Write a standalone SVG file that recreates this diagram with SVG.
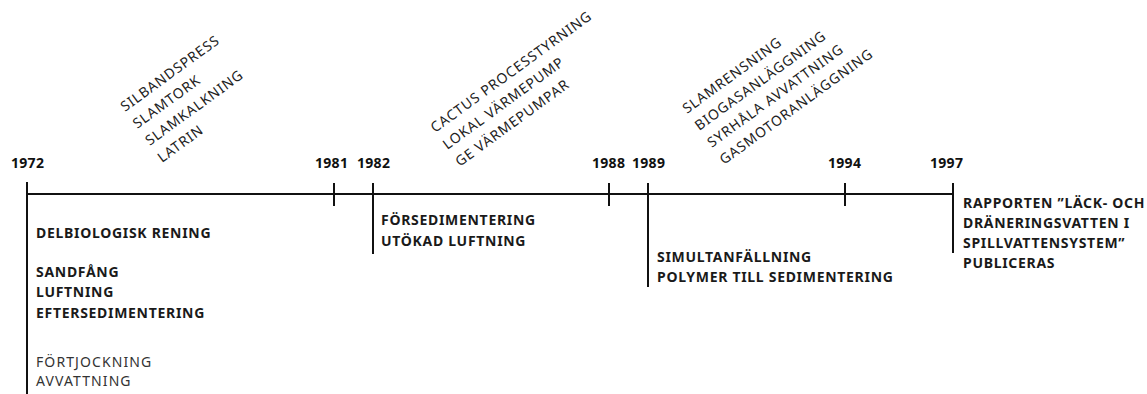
<svg xmlns="http://www.w3.org/2000/svg" width="1147" height="394" viewBox="0 0 1147 394">
<style>
.bg{fill:#fff}
.ax{stroke:#111;stroke-width:2;fill:none}
.yr{font-family:"Noto Sans",sans-serif;font-weight:700;font-size:14px;letter-spacing:0.3px;fill:#111}
.b{font-family:"Noto Sans",sans-serif;font-weight:700;font-size:14px;letter-spacing:0.7px;fill:#1a1a1a}
.r{font-family:"Noto Sans",sans-serif;font-weight:400;font-size:14px;letter-spacing:1.1px;fill:#333}
.rot{font-family:"Noto Sans",sans-serif;font-weight:400;font-size:14px;letter-spacing:0.9px;fill:#222}
</style>
<rect class="bg" width="1147" height="394"/>
<g id="connectors">
<line class="ax" x1="27" y1="194" x2="953" y2="194"/>
<line class="ax" x1="27" y1="182" x2="27" y2="394"/>
<line class="ax" x1="334" y1="183" x2="334" y2="206"/>
<line class="ax" x1="373" y1="183" x2="373" y2="254"/>
<line class="ax" x1="609" y1="183" x2="609" y2="206"/>
<line class="ax" x1="648" y1="183" x2="648" y2="287"/>
<line class="ax" x1="845" y1="183" x2="845" y2="206"/>
<line class="ax" x1="953" y1="183" x2="953" y2="253"/>
</g>
<g id="y1972">
<text class="yr" x="11" y="168">1972</text>
<g transform="translate(125,112) rotate(-36)">
<text class="rot" x="0" y="0">SILBANDSPRESS</text>
<text class="rot" x="0" y="21">SLAMTORK</text>
<text class="rot" x="0" y="42">SLAMKALKNING</text>
<text class="rot" x="0" y="63">LATRIN</text>
</g>
<text class="b" x="36" y="238">DELBIOLOGISK RENING</text>
<text class="b" x="36" y="277">SANDFÅNG</text>
<text class="b" x="36" y="297">LUFTNING</text>
<text class="b" x="36" y="318">EFTERSEDIMENTERING</text>
<text class="r" x="36" y="367">FÖRTJOCKNING</text>
<text class="r" x="36" y="386">AVVATTNING</text>
</g>
<g id="y1981">
<text class="yr" x="315" y="168">1981</text>
</g>
<g id="y1982">
<text class="yr" x="357" y="168">1982</text>
<g transform="translate(435,133) rotate(-36)">
<text class="rot" x="0" y="0">CACTUS PROCESSTYRNING</text>
<text class="rot" x="0" y="21">LOKAL VÄRMEPUMP</text>
<text class="rot" x="0" y="42">GE VÄRMEPUMPAR</text>
</g>
<text class="b" x="381" y="225">FÖRSEDIMENTERING</text>
<text class="b" x="381" y="246">UTÖKAD LUFTNING</text>
</g>
<g id="y1988">
<text class="yr" x="592" y="168">1988</text>
</g>
<g id="y1989">
<text class="yr" x="632" y="168">1989</text>
<g transform="translate(687,114) rotate(-36)">
<text class="rot" x="0" y="0">SLAMRENSNING</text>
<text class="rot" x="0" y="21">BIOGASANLÄGGNING</text>
<text class="rot" x="0" y="42">SYRHÅLA AVVATTNING</text>
<text class="rot" x="0" y="63">GASMOTORANLÄGGNING</text>
</g>
<text class="b" x="657" y="262">SIMULTANFÄLLNING</text>
<text class="b" x="657" y="282">POLYMER TILL SEDIMENTERING</text>
</g>
<g id="y1994">
<text class="yr" x="828" y="168">1994</text>
</g>
<g id="y1997">
<text class="yr" x="930" y="168">1997</text>
<text class="b" x="963" y="208">RAPPORTEN ”LÄCK- OCH</text>
<text class="b" x="963" y="228">DRÄNERINGSVATTEN I</text>
<text class="b" x="963" y="248">SPILLVATTENSYSTEM”</text>
<text class="b" x="963" y="268">PUBLICERAS</text>
</g>
</svg>
